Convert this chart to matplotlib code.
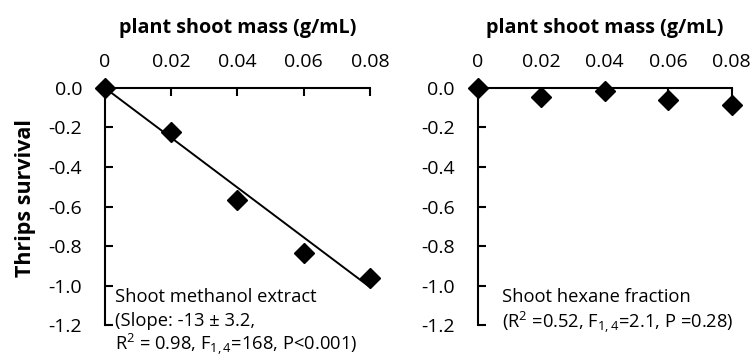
import numpy as np
import matplotlib.pyplot as plt

plt.rcParams['font.family'] = ['Open Sans', 'DejaVu Sans']
plt.rcParams['mathtext.fontset'] = 'custom'
plt.rcParams['mathtext.rm'] = 'Open Sans'
plt.rcParams['mathtext.it'] = 'Open Sans:italic'
plt.rcParams['mathtext.bf'] = 'Open Sans:bold'

# data
mass = [0, 0.02, 0.04, 0.06, 0.08]
methanol = [0.0, -0.223, -0.567, -0.835, -0.962]
hexane = [0.0, -0.044, -0.013, -0.06, -0.086]
fit_slope = -12.6
fit_intercept = 0.0
xticks = [0, 0.02, 0.04, 0.06, 0.08]
xtick_labels = ['0', '0.02', '0.04', '0.06', '0.08']
yticks = [0.0, -0.2, -0.4, -0.6, -0.8, -1.0, -1.2]
ytick_labels = ['0.0', '-0.2', '-0.4', '-0.6', '-0.8', '-1.0', '-1.2']

fig = plt.figure(figsize=(7.55, 3.62), dpi=100)
ax1 = fig.add_axes([0.139, 0.102, 0.351, 0.655])
ax2 = fig.add_axes([0.633, 0.102, 0.336, 0.655])

for ax in (ax1, ax2):
    ax.set_xlim(0, 0.08)
    ax.set_ylim(-1.2, 0)
    ax.xaxis.tick_top()
    ax.set_xticks(xticks)
    ax.set_xticklabels(xtick_labels)
    ax.set_yticks(yticks)
    ax.set_yticklabels(ytick_labels)
    ax.spines['right'].set_visible(False)
    ax.spines['bottom'].set_visible(False)
    ax.spines['left'].set_linewidth(1.5)
    ax.spines['top'].set_linewidth(1.5)
    ax.tick_params(axis='both', direction='in', length=6, width=1.5,
                   labelsize=14)
    ax.tick_params(axis='x', pad=12)
    ax.tick_params(axis='y', pad=16.5)
    ax.set_xlabel('plant shoot mass (g/mL)', fontsize=14.2, fontweight='bold',
                  labelpad=14.5)
    ax.xaxis.set_label_position('top')
    ax.patch.set_visible(False)

ax1.set_ylabel('Thrips survival', fontsize=15.5, fontweight='bold')
ax1.yaxis.set_label_coords(-0.261, 0.536)

xfit = np.array([0, 0.08])
ax1.plot(xfit, fit_intercept + fit_slope * xfit, color='black', lw=1.4)
ax1.plot(mass, methanol, 'D', color='black', markersize=10.5, clip_on=False, zorder=5)
ax2.plot(mass, hexane, 'D', color='black', markersize=10.5, clip_on=False, zorder=5)

fs = 13.2
ax1.text(0.038, 0.118, 'Shoot methanol extract', transform=ax1.transAxes,
         fontsize=fs, va='center')
ax1.text(0.038, 0.017, '(Slope: -13 \u00b1 3.2,', transform=ax1.transAxes,
         fontsize=fs, va='center')
ax1.text(0.038, -0.080, r'R$^2$ = 0.98, F$_{\mathrm{1,4}}$=168, P<0.001)',
         transform=ax1.transAxes, fontsize=fs, va='center')

ax2.text(0.095, 0.118, 'Shoot hexane fraction', transform=ax2.transAxes,
         fontsize=fs, va='center')
ax2.text(0.095, 0.013, r'(R$^2$ =0.52, F$_{\mathrm{1,4}}$=2.1, P =0.28)',
         transform=ax2.transAxes, fontsize=fs, va='center')

plt.savefig('out.png', dpi=100)
